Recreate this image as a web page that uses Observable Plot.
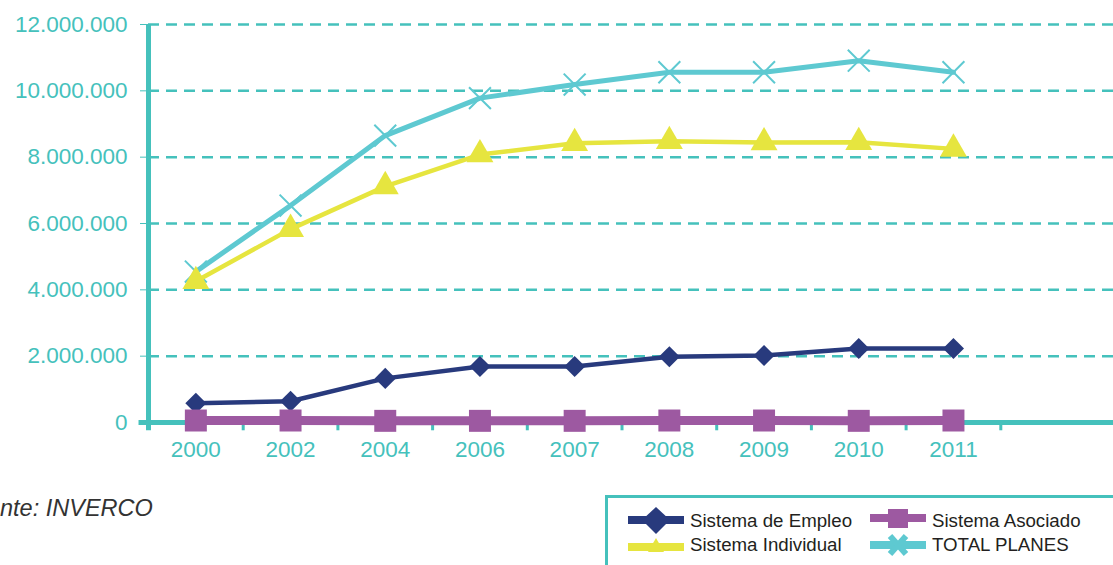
<!DOCTYPE html>
<html><head><meta charset="utf-8">
<script src="https://cdn.jsdelivr.net/npm/d3@7"></script>
<script src="https://cdn.jsdelivr.net/npm/@observablehq/plot@0.6"></script>
<style>
body{margin:0;background:#fff;}
#wrap{position:relative;width:1113px;height:565px;overflow:hidden;font-family:"Liberation Sans",Arial,sans-serif;}
#chart{position:absolute;left:0;top:0;}
#caption{position:absolute;left:0px;top:495px;font-style:italic;font-size:23.5px;color:#333;white-space:nowrap;}
#legend{position:absolute;left:0;top:0;pointer-events:none;}
</style></head><body>
<div id="wrap"><div id="chart"></div><div id="caption">nte: INVERCO</div><svg id="legend" width="1113" height="565"></svg></div>
<script>
const years = ["2000","2002","2004","2006","2007","2008","2009","2010","2011"];
const empleo = [580000, 640000, 1330000, 1690000, 1690000, 1980000, 2020000, 2230000, 2230000];
const individual = [4260000, 5830000, 7120000, 8080000, 8420000, 8480000, 8440000, 8450000, 8250000];
const asociado = [60000, 60000, 50000, 50000, 50000, 60000, 60000, 50000, 60000];
const total = [4550000, 6540000, 8650000, 9780000, 10190000, 10560000, 10560000, 10910000, 10560000];
const yTicks = [0, 2000000, 4000000, 6000000, 8000000, 10000000, 12000000];
const seriesNames = ["Sistema de Empleo", "Sistema Individual", "Sistema Asociado", "TOTAL PLANES"];

const teal = "#45c1bc";
const colors = {"Sistema de Empleo": "#283a7d", "Sistema Individual": "#e6e53f", "Sistema Asociado": "#9d59a1", "TOTAL PLANES": "#5ec9d1"};
const seriesValues = [empleo, individual, asociado, total];
const rows = seriesNames.map((s, k) => years.map((y, i) => ({series: s, i, year: y, value: seriesValues[k][i]})));
const [rEmp, rInd, rAso, rTot] = rows;
const bounds = d3.range(years.length + 1).map(i => i - 0.5);
const fmt = d => d3.format(",")(d).replace(/,/g, ".");
const xMax = 9.69;

const chart = Plot.plot({
  width: 1113, height: 470,
  marginLeft: 148, marginRight: 0, marginTop: 24, marginBottom: 48,
  style: {fontFamily: "Liberation Sans, Arial, sans-serif", fontSize: "22.5px", color: teal, background: "transparent", overflow: "visible"},
  x: {type: "linear", domain: [-0.5, xMax], ticks: years.map((_, i) => i), tickFormat: i => years[i], tickSize: 0, tickPadding: 19, label: null},
  y: {domain: [0, 12000000], ticks: yTicks, tickFormat: fmt, tickSize: 8, tickPadding: 13, label: null},
  marks: [
    Plot.ruleY(yTicks.slice(1), {x1: -0.5, x2: xMax, stroke: teal, strokeWidth: 2.5, strokeDasharray: "11,7"}),
    Plot.ruleX([-0.5], {y1: -250000, y2: 12000000, stroke: teal, strokeWidth: 5}),
    Plot.ruleX(bounds.slice(1), {y1: 0, y2: -250000, stroke: teal, strokeWidth: 3}),
    Plot.ruleY([0], {x1: -0.6, x2: xMax, stroke: teal, strokeWidth: 5}),
    Plot.line(rTot, {x: "i", y: "value", stroke: colors["TOTAL PLANES"], strokeWidth: 5}),
    Plot.dot(rTot, {x: "i", y: "value", symbol: "times", r: 10, stroke: colors["TOTAL PLANES"], strokeWidth: 2}),
    Plot.line(rInd, {x: "i", y: "value", stroke: colors["Sistema Individual"], strokeWidth: 4.5}),
    Plot.dot(rInd, {x: "i", y: "value", symbol: "triangle", r: 10, fill: colors["Sistema Individual"]}),
    Plot.line(rEmp, {x: "i", y: "value", stroke: colors["Sistema de Empleo"], strokeWidth: 4.5}),
    Plot.dot(rEmp, {x: "i", y: "value", symbol: "diamond2", r: 9.5, fill: colors["Sistema de Empleo"]}),
    Plot.line(rAso, {x: "i", y: "value", stroke: colors["Sistema Asociado"], strokeWidth: 9}),
    Plot.dot(rAso, {x: "i", y: "value", symbol: "square", r: 12.4, fill: colors["Sistema Asociado"]})
  ]
});
document.getElementById("chart").appendChild(chart);

// Legend
const lg = d3.select("#legend");
lg.append("path").attr("d", "M606.5,565V496.5H1113").attr("fill", "none").attr("stroke", teal).attr("stroke-width", 3);
const items = [
  {name: seriesNames[0], x: 628, y: 520, ty: 527, sym: "diamond"},
  {name: seriesNames[1], x: 628, y: 547, ty: 551, sym: "triangle"},
  {name: seriesNames[2], x: 870, y: 518, ty: 527, sym: "square"},
  {name: seriesNames[3], x: 870, y: 545, ty: 551, sym: "x"}
];
for (const it of items) {
  const c = colors[it.name];
  const cx = it.x + 28;
  lg.append("line").attr("x1", it.x).attr("x2", it.x + 56).attr("y1", it.y).attr("y2", it.y).attr("stroke", c).attr("stroke-width", 8);
  if (it.sym === "diamond") lg.append("path").attr("d", `M${cx},${it.y - 13}L${cx + 14},${it.y}L${cx},${it.y + 14}L${cx - 14},${it.y}Z`).attr("fill", c);
  if (it.sym === "triangle") lg.append("path").attr("d", `M${cx},${it.y - 9}L${cx + 8},${it.y + 5}L${cx - 8},${it.y + 5}Z`).attr("fill", c);
  if (it.sym === "square") lg.append("rect").attr("x", cx - 10).attr("y", it.y - 9).attr("width", 20).attr("height", 19).attr("fill", c);
  if (it.sym === "x") lg.append("path").attr("d", `M${cx - 8},${it.y - 9}L${cx + 8},${it.y + 9}M${cx + 8},${it.y - 9}L${cx - 8},${it.y + 9}`).attr("stroke", c).attr("stroke-width", 6);
  lg.append("text").attr("x", it.x + 62).attr("y", it.ty).attr("font-size", 18.7).attr("fill", "#231f20").attr("font-family", "Liberation Sans, Arial, sans-serif").text(it.name);
}
</script>
</body></html>
